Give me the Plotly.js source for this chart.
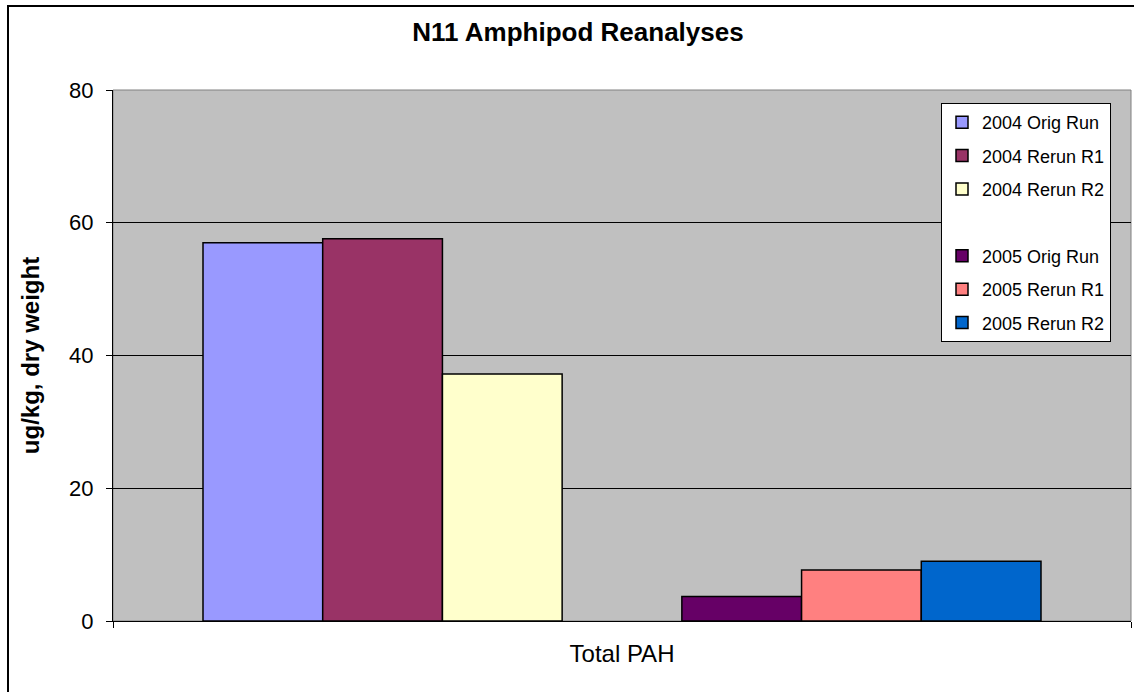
<!DOCTYPE html>
<html>
<head>
<meta charset="utf-8">
<script src="https://cdn.plot.ly/plotly-3.0.1.min.js"></script>
<style>
  html, body { margin: 0; padding: 0; background: #ffffff; }
  #chart { width: 1134px; height: 692px; }
</style>
</head>
<body>
<div id="chart"></div>
<script>
// Data
const categories = ["Total PAH"];
const seriesNames = ["2004 Orig Run", "2004 Rerun R1", "2004 Rerun R2", " ", "2005 Orig Run", "2005 Rerun R1", "2005 Rerun R2"];
const seriesValues = [[57.0], [57.6], [37.2], [null], [3.7], [7.7], [9.0]];
const seriesColors = ["#9999FF", "#993366", "#FFFFCC", "rgba(0,0,0,0)", "#660066", "#FF8080", "#0066CC"];
const yTicks = [0, 20, 40, 60, 80];

const traces = seriesNames.map((name, i) => ({
  type: "bar",
  name: name,
  x: categories,
  y: seriesValues[i],
  legendgroup: "g" + i,
  marker: {
    color: seriesColors[i],
    line: { color: name.trim() === "" ? "rgba(0,0,0,0)" : "#000000", width: name.trim() === "" ? 0 : 1.5 }
  },
  hoverinfo: "skip"
}));

const L = 113, R = 1131, T = 90, B = 621;
const pw = R - L, ph = B - T;
const FONT = "Liberation Sans, Arial, sans-serif";

const layout = {
  width: 1134,
  height: 692,
  margin: { l: L, r: 1134 - R, t: T, b: 692 - B, pad: 0 },
  paper_bgcolor: "#ffffff",
  plot_bgcolor: "#C0C0C0",
  font: { family: FONT, color: "#000000", size: 22 },
  title: {
    text: "<b>N11 Amphipod Reanalyses</b>",
    font: { size: 26, family: FONT, color: "#000000" },
    x: 578 / 1134, xanchor: "center", xref: "container",
    y: 1 - 32 / 692, yanchor: "middle", yref: "container"
  },
  barmode: "group",
  bargap: 180 / pw,
  bargroupgap: 0,
  showlegend: true,
  legend: {
    x: (941 - L) / pw, xanchor: "left",
    y: (B - 103) / ph, yanchor: "top",
    bgcolor: "#ffffff",
    bordercolor: "#000000",
    borderwidth: 1,
    font: { size: 18, family: FONT, color: "#000000" },
    traceorder: "grouped",
    tracegroupgap: 7,
    itemwidth: 30
  },
  xaxis: {
    type: "category",
    range: [-0.5, 0.5],
    showgrid: false,
    showline: true,
    linecolor: "#000000",
    linewidth: 1,
    ticks: "outside",
    tickson: "boundaries",
    ticklen: 6,
    tickcolor: "#000000",
    tickfont: { size: 24 },
    ticklabelstandoff: 11,
    zeroline: false,
    fixedrange: true
  },
  yaxis: {
    range: [0, 80],
    tickvals: yTicks,
    ticktext: yTicks.map(String),
    showgrid: true,
    gridcolor: "#000000",
    gridwidth: 1,
    showline: true,
    linecolor: "#000000",
    linewidth: 1,
    ticks: "outside",
    ticklen: 6,
    tickcolor: "#000000",
    tickfont: { size: 22 },
    ticklabelstandoff: 8,
    zeroline: false,
    automargin: true,
    title: {
      text: "<b>ug/kg, dry weight</b>",
      font: { size: 24 },
      standoff: 22
    },
    fixedrange: true
  },
  shapes: [
    {
      type: "rect", xref: "paper", yref: "paper",
      x0: 0, x1: 1, y0: 0, y1: 1,
      line: { color: "#808080", width: 1 },
      layer: "below"
    },
    {
      type: "rect", xref: "paper", yref: "paper",
      x0: (8 - L) / pw, x1: (1132 - L) / pw + 0.05,
      y0: -0.3, y1: (B - 6) / ph,
      line: { color: "#000000", width: 2 },
      fillcolor: "rgba(0,0,0,0)"
    }
  ]
};

Plotly.newPlot("chart", traces, layout, { staticPlot: true, displayModeBar: false });
</script>
</body>
</html>
